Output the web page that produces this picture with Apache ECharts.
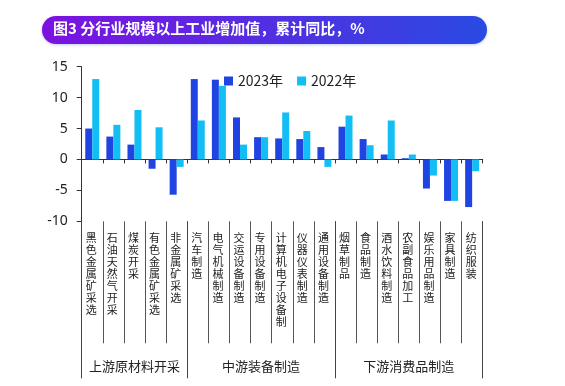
<!DOCTYPE html>
<html><head><meta charset="utf-8">
<script src="https://cdn.jsdelivr.net/npm/echarts@6/dist/echarts.min.js"></script>
<style>html,body{margin:0;padding:0;background:#fff}#c{width:565px;height:386px}</style>
</head><body><div id="c"></div>
<script>
const categories = ['黑色金属矿采选','石油天然气开采','煤炭开采','有色金属矿采选','非金属矿采选','汽车制造','电气机械制造','交运设备制造','专用设备制造','计算机电子设备制','仪器仪表制造','通用设备制造','烟草制品','食品制造','酒水饮料制造','农副食品加工','娱乐用品制造','家具制造','纺织服装'];
const values2023 = [5.0, 3.7, 2.4, -1.5, -5.7, 13.0, 12.9, 6.8, 3.6, 3.4, 3.3, 2.0, 5.3, 3.3, 0.8, 0.2, -4.7, -6.7, -7.7];
const values2022 = [13.0, 5.6, 8.0, 5.2, -1.2, 6.3, 11.9, 2.4, 3.6, 7.6, 4.6, -1.2, 7.1, 2.3, 6.3, 0.8, -2.6, -6.7, -1.9];
const groupNames = ['上游原材料开采','中游装备制造','下游消费品制造'];
const groupSizes = [5, 7, 7];
const seriesNames = ['2023年','2022年'];
const yTicks = [-10, -5, 0, 5, 10, 15];

const bounds = [0]; groupSizes.forEach(s => bounds.push(bounds[bounds.length-1] + s));
const centers = groupSizes.map((s,i) => bounds[i] + s/2);

const FONT = '"Noto Sans CJK SC","Noto Sans",sans-serif';
const chart = echarts.init(document.getElementById('c'), null, {renderer:'canvas'});
chart.setOption({
  animation: false,
  backgroundColor: '#fff',
  textStyle: {fontFamily: FONT},
  graphic: [
    {type:'rect', shape:{x:42, y:16, width:445, height:28, r:14},
     style:{fill:new echarts.graphic.LinearGradient(0,0,1,0,[{offset:0,color:'#7C12E0'},{offset:1,color:'#2A4AE2'}]),
            shadowBlur:3, shadowColor:'rgba(80,110,240,0.35)', shadowOffsetY:1}},
    {type:'text', left:53, top:21, style:{text:'图3 分行业规模以上工业增加值，累计同比，%', fill:'#fff', font:'bold 15px "Noto Sans CJK SC"'}}
  ],
  legend: {
    data: seriesNames, left: 219, top: 69, icon: 'rect', itemWidth: 9, itemHeight: 9, itemGap: 14,
    textStyle: {fontSize: 14, color: '#222', fontFamily: FONT}
  },
  grid: {left: 81.7, right: 82.3, top: 66.7, bottom: 164.7, containLabel: false},
  yAxis: {
    type: 'value', min: yTicks[0], max: yTicks[yTicks.length-1], interval: 5,
    axisLine: {show: true, onZero: false, lineStyle: {color: '#333', width: 1}},
    axisTick: {show: true, length: 5, lineStyle: {color: '#333'}},
    axisLabel: {fontSize: 14, color: '#222', margin: 14, fontFamily: '"Noto Sans",sans-serif'},
    splitLine: {show: false}
  },
  xAxis: [
    {type: 'category', data: categories, position: 'bottom',
     axisLine: {show: true, onZero: true, lineStyle: {color: '#333'}},
     axisTick: {show: true, length: 4, interval: 0, lineStyle: {color: '#333'}},
     axisLabel: {show: false}},
    {type: 'category', data: categories, position: 'bottom',
     axisLine: {show: false, onZero: false},
     axisTick: {show: true, length: 122, interval: 0, lineStyle: {color: '#555'}},
     axisLabel: {show: true, interval: 0, margin: 11, fontSize: 11, lineHeight: 12, color: '#222', fontFamily: FONT,
                 padding: [0, 2, 0, 0],
                 formatter: v => v.split('').join('\n')}},
    {type: 'value', min: 0, max: categories.length, position: 'bottom',
     axisLine: {show: false, onZero: false},
     splitLine: {show: false},
     axisTick: {show: true, length: 157, customValues: bounds, lineStyle: {color: '#444'}},
     axisLabel: {show: true, customValues: centers, margin: 138, fontSize: 13, color: '#222', fontFamily: FONT,
                 formatter: v => { const i = centers.indexOf(v); return i >= 0 ? groupNames[i] : ''; }}}
  ],
  series: [
    {name: seriesNames[0], type: 'bar', xAxisIndex: 0, data: values2023, barWidth: 7, barGap: '0%', itemStyle: {color: '#1F44E2'}},
    {name: seriesNames[1], type: 'bar', xAxisIndex: 0, data: values2022, barWidth: 7, barGap: '0%', itemStyle: {color: '#12BEF3'}}
  ]
});
</script></body></html>
